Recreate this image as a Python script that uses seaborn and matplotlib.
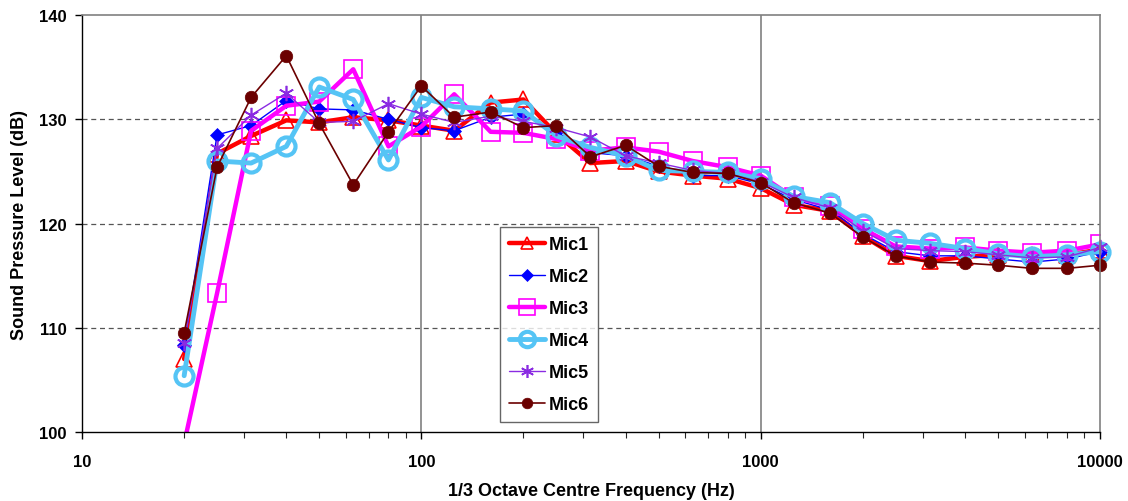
import numpy as np
import pandas as pd
import matplotlib
matplotlib.use("Agg")
import matplotlib.pyplot as plt
from matplotlib.ticker import LogLocator, FixedLocator, NullFormatter
import seaborn as sns

# 1/3 octave centre frequencies (Hz)
freqs = [20, 25, 31.5, 40, 50, 63, 80, 100, 125, 160, 200, 250, 315, 400, 500,
         630, 800, 1000, 1250, 1600, 2000, 2500, 3150, 4000, 5000, 6300, 8000, 10000]

mic1 = [107.0, 126.7, 128.4, 129.9, 129.7, 130.2, 129.9, 129.4, 128.9, 131.6, 131.9, 128.6, 125.8, 126.0,
        125.0, 124.6, 124.3, 123.4, 121.8, 121.2, 118.8, 116.9, 116.4, 116.8, 117.0, 117.0, 117.0, 117.5]
mic2 = [108.3, 128.5, 129.4, 131.8, 131.0, 130.9, 130.0, 129.2, 128.9, 130.2, 130.5, 128.8, 126.8, 126.5,
        125.5, 124.6, 124.6, 123.8, 122.3, 121.3, 119.0, 117.3, 116.9, 116.9, 116.6, 116.3, 116.6, 117.3]
mic3 = [98.9, 113.3, 128.9, 131.3, 131.7, 134.8, 127.4, 129.3, 132.4, 128.8, 128.7, 128.1, 127.0, 127.3,
        126.9, 126.0, 125.4, 124.6, 122.5, 121.7, 119.5, 117.8, 117.6, 117.7, 117.4, 117.2, 117.4, 118.0]
mic4 = [105.4, 126.0, 125.8, 127.4, 133.1, 131.9, 126.1, 132.1, 131.2, 131.0, 130.8, 128.4, 127.3, 126.5,
        125.1, 125.0, 124.9, 124.3, 122.6, 122.0, 120.0, 118.4, 118.1, 117.6, 117.1, 116.8, 117.0, 117.3]
mic5 = [108.5, 127.2, 130.4, 132.5, 129.7, 129.8, 131.5, 130.5, 129.7, 130.3, 129.8, 129.2, 128.3, 126.5,
        125.8, 125.1, 124.8, 124.0, 122.5, 121.5, 119.3, 117.6, 117.4, 117.3, 117.0, 116.7, 116.8, 117.7]
mic6 = [109.5, 125.4, 132.1, 136.1, 129.6, 123.7, 128.8, 133.2, 130.2, 130.7, 129.2, 129.4, 126.4, 127.5,
        125.5, 124.9, 124.8, 123.9, 122.0, 121.0, 118.7, 116.9, 116.3, 116.2, 116.0, 115.7, 115.7, 116.0]

df = pd.DataFrame({"freq": freqs, "Mic1": mic1, "Mic2": mic2, "Mic3": mic3,
                   "Mic4": mic4, "Mic5": mic5, "Mic6": mic6})

sns.set_style("white")
plt.rcParams['font.family'] = ['Liberation Sans', 'DejaVu Sans']
plt.rcParams['font.weight'] = 'bold'
plt.rcParams['text.color'] = 'black'
plt.rcParams['axes.labelcolor'] = 'black'

fig = plt.figure(figsize=(11.28, 5.02), dpi=100)
ax = fig.add_axes([0.0727, 0.1375, 0.9025, 0.8305])

styles = {
    "Mic1": dict(color="#FF0000", lw=3.2, marker="^", ms=11, mfc="none", mew=1.2),
    "Mic2": dict(color="#0000FF", lw=1.0, marker="D", ms=7, mfc="#0000FF", mew=0.5),
    "Mic3": dict(color="#FF00FF", lw=3.2, marker="s", ms=13, mfc="none", mew=1.2),
    "Mic4": dict(color="#55C4F5", lw=3.5, marker="o", ms=13, mfc="none", mew=3.0),
    "Mic5": dict(color="#8A2BE2", lw=1.0, marker=(6, 2, 0), ms=11, mfc="none", mew=1.2),
    "Mic6": dict(color="#6B0000", lw=1.2, marker="o", ms=9, mfc="#6B0000", mew=0.5),
}

for name, st in styles.items():
    sns.lineplot(data=df, x="freq", y=name, ax=ax, label=name,
                 color=st["color"], linewidth=st["lw"], marker=st["marker"],
                 markersize=st["ms"], markerfacecolor=st["mfc"],
                 markeredgecolor=st["color"], markeredgewidth=st["mew"])

# markers at the right edge are drawn in full; Mic3 dips below the axis so stays clipped
for line, name in zip(ax.get_lines(), styles):
    line.set_clip_on(name == "Mic3")

ax.set_xscale("log")
ax.set_xlim(10, 10000)
ax.set_ylim(100, 140)
ax.set_yticks([100, 110, 120, 130, 140])
ax.xaxis.set_major_locator(FixedLocator([10, 100, 1000, 10000]))
ax.set_xticklabels(["10", "100", "1000", "10000"])
ax.xaxis.set_minor_locator(LogLocator(base=10, subs=np.arange(2, 10)))
ax.xaxis.set_minor_formatter(NullFormatter())

for y in [110, 120, 130]:
    ax.axhline(y, color="#555555", lw=0.9, ls=(0, (4, 3)), zorder=0)
for x in [100, 1000]:
    ax.axvline(x, color="#808080", lw=1.2, zorder=0)

for side in ["top", "right"]:
    ax.spines[side].set_color("#808080")
    ax.spines[side].set_linewidth(1.2)
for side in ["left", "bottom"]:
    ax.spines[side].set_color("black")
    ax.spines[side].set_linewidth(1.0)

ax.tick_params(axis="both", which="major", direction="out", length=5, width=1,
               labelsize=12, colors="black", left=True, bottom=True)
ax.tick_params(axis="x", which="major", pad=11)
ax.tick_params(axis="y", which="major", pad=6)
ax.tick_params(axis="x", which="minor", direction="out", length=4, width=0.8, bottom=True)
for lab in ax.get_xticklabels() + ax.get_yticklabels():
    lab.set_fontweight("bold")

ax.set_xlabel("1/3 Octave Centre Frequency (Hz)", fontsize=13, fontweight="bold", labelpad=9)
ax.set_ylabel("Sound Pressure Level (dB)", fontsize=13, fontweight="bold", labelpad=8)

leg = ax.legend(loc="upper left", bbox_to_anchor=(0.4106, 0.4916), borderaxespad=0,
                frameon=True, fancybox=False, edgecolor="#404040",
                prop={"weight": "bold", "size": 13}, markerscale=0.85,
                handlelength=2.0, labelspacing=0.83, borderpad=0.5, handletextpad=0.2)
leg.get_frame().set_linewidth(1.0)
for txt in leg.get_texts():
    txt.set_color("black")

fig.savefig("out.png", dpi=100)
